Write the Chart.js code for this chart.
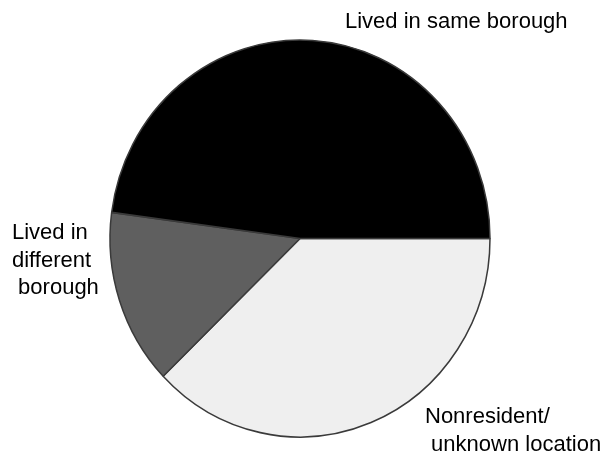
<!DOCTYPE html>
<html>
<head>
<meta charset="utf-8">
<script src="https://cdn.jsdelivr.net/npm/chart.js@4/dist/chart.umd.min.js"></script>
<style>
  html, body { margin: 0; padding: 0; background: #ffffff; }
  #wrap { width: 607px; height: 457px; }
</style>
</head>
<body>
<div id="wrap"><canvas id="pie" width="607" height="457"></canvas></div>
<script>
// Residence of the people counted, share in percent (clockwise from 3 o'clock)
const categories = ["Nonresident/ unknown location", "Lived in different borough", "Lived in same borough"];
const shares = [37.8, 14.3, 47.9];
const sliceColors = ["#efefef", "#5f5f5f", "#000000"];

// Label text, split into the lines it is printed on
const labelLines = [
  ["Nonresident/", " unknown location"],
  ["Lived in", "different", " borough"],
  ["Lived in same borough"]
];
// Anchor (left edge, first baseline) of each label
const labelAnchors = [
  { x: 425, y: 423 },
  { x: 12, y: 239 },
  { x: 345, y: 28 }
];

// The pie is drawn slightly taller than wide
const verticalStretch = 198.5 / 190;

const stretchPlugin = {
  id: "stretch",
  beforeDatasetsDraw(chart) {
    const arc = chart.getDatasetMeta(0).data[0];
    const ctx = chart.ctx;
    ctx.save();
    ctx.translate(arc.x, arc.y);
    ctx.scale(1, verticalStretch);
    ctx.translate(-arc.x, -arc.y);
  },
  afterDatasetsDraw(chart) {
    chart.ctx.restore();
  }
};

const labelPlugin = {
  id: "sliceLabels",
  afterDraw(chart) {
    const ctx = chart.ctx;
    ctx.save();
    ctx.fillStyle = "#000000";
    ctx.font = "22px 'Liberation Sans', Arial, sans-serif";
    ctx.textAlign = "left";
    ctx.textBaseline = "alphabetic";
    labelLines.forEach((lines, i) => {
      const a = labelAnchors[i];
      lines.forEach((line, j) => ctx.fillText(line, a.x, a.y + j * 27.5));
    });
    ctx.restore();
  }
};

new Chart(document.getElementById("pie"), {
  type: "pie",
  data: {
    labels: categories,
    datasets: [{
      data: shares,
      backgroundColor: sliceColors,
      borderColor: "#3a3a3a",
      borderWidth: 1.5,
      hoverOffset: 0
    }]
  },
  options: {
    responsive: false,
    animation: false,
    rotation: 90,
    layout: { padding: { left: 109.25, right: 116.25, top: 47.75, bottom: 27.75 } },
    plugins: {
      legend: { display: false },
      tooltip: { enabled: false }
    },
    events: []
  },
  plugins: [stretchPlugin, labelPlugin]
});
</script>
</body>
</html>
